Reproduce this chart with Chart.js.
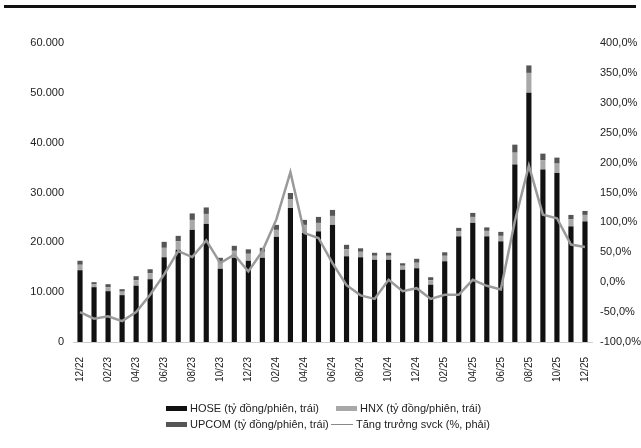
<!DOCTYPE html>
<html>
<head>
<meta charset="utf-8">
<script src="https://cdn.jsdelivr.net/npm/chart.js@4.4.1/dist/chart.umd.min.js"></script>
<style>
    body { margin: 0; background: #fff; }
    #wrap { position: relative; width: 641px; height: 448px; }
    #topRule { position: absolute; left: 4px; top: 5px; width: 632px; height: 3px; background: #111; }
    .legend { position: absolute; left: 0; top: 0; font-family: "Liberation Sans", Arial, sans-serif; font-size: 11px; color: #222; }
    .item { position: absolute; white-space: nowrap; line-height: 12px; }
    .box { display: inline-block; width: 21px; height: 5px; vertical-align: middle; margin-right: 3px; margin-top: -2px; }
    .ln { display: inline-block; width: 22px; height: 1px; vertical-align: middle; margin-right: 3px; background: #888; margin-top: -1px; }
</style>
</head>
<body>
<div id="wrap">
    <canvas id="chart" width="641" height="448"></canvas>
    <div id="topRule"></div>
    <div class="legend">
        <div class="item" style="left:166px; top:402px;"><span class="box" style="background:#111"></span>HOSE (tỷ đồng/phiên, trái)</div>
        <div class="item" style="left:336px; top:402px;"><span class="box" style="background:#a8a8a8"></span>HNX (tỷ đồng/phiên, trái)</div>
        <div class="item" style="left:166px; top:418px;"><span class="box" style="background:#555"></span>UPCOM (tỷ đồng/phiên, trái)</div>
        <div class="item" style="left:331px; top:418px;"><span class="ln"></span>Tăng trưởng svck (%, phải)</div>
    </div>
</div>
<script>
const months = ['12/22', '01/23', '02/23', '03/23', '04/23', '05/23', '06/23', '07/23', '08/23', '09/23', '10/23', '11/23',
    '12/23', '01/24', '02/24', '03/24', '04/24', '05/24', '06/24', '07/24', '08/24', '09/24', '10/24', '11/24',
    '12/24', '01/25', '02/25', '03/25', '04/25', '05/25', '06/25', '07/25', '08/25', '09/25', '10/25', '11/25', '12/25'];

// ty dong / phien
const hose = [14400, 11000, 10200, 9400, 11300, 12600, 17000, 18500, 22500, 23700, 14700, 16900,
    16300, 16900, 21100, 26900, 21900, 22200, 23500, 17200, 17000, 16500, 16500, 14500,
    14800, 11500, 16200, 21200, 23900, 21200, 20200, 35600, 50000, 34600, 33900, 23200, 24200];
const hnx = [1100, 600, 800, 700, 1100, 1200, 1900, 1700, 2000, 2000, 1300, 1400,
    1400, 1200, 1400, 1800, 1600, 1700, 1800, 1400, 1100, 800, 800, 800,
    1100, 900, 1100, 1000, 1200, 1100, 1100, 2400, 4000, 1900, 1900, 1400, 1300];
const upcom = [800, 400, 600, 500, 800, 800, 1200, 1100, 1300, 1300, 900, 1000,
    900, 800, 1000, 1200, 1000, 1200, 1200, 900, 700, 600, 600, 500,
    800, 600, 700, 700, 800, 700, 800, 1600, 1500, 1300, 1200, 900, 800];
// % yoy
const growth = [-50, -61, -57, -65, -50, -21, 13, 52, 42, 70, 32, 46,
    18, 52, 105, 184, 82, 74, 32, -5, -22, -28, 4, -15,
    -10, -28, -21, -21, 4, -6, -12, 102, 195, 113, 107, 63, 59];

const leftTicks = [0, 10000, 20000, 30000, 40000, 50000, 60000];

const font = { family: '"Liberation Sans", Arial, sans-serif', size: 11 };

const ctx = document.getElementById('chart').getContext('2d');
new Chart(ctx, {
    data: {
        labels: months,
        datasets: [
            { type: 'line', label: 'Tăng trưởng svck (%, phải)', data: growth, yAxisID: 'y2',
              borderColor: '#9a9a9a', borderWidth: 2.5, pointRadius: 0, tension: 0, order: 0 },
            { type: 'bar', label: 'HOSE', data: hose, backgroundColor: '#111', stack: 's', order: 1,
              categoryPercentage: 0.8, barPercentage: 0.46 },
            { type: 'bar', label: 'HNX', data: hnx, backgroundColor: '#a8a8a8', stack: 's', order: 1,
              categoryPercentage: 0.8, barPercentage: 0.46 },
            { type: 'bar', label: 'UPCOM', data: upcom, backgroundColor: '#555', stack: 's', order: 1,
              categoryPercentage: 0.8, barPercentage: 0.46 }
        ]
    },
    options: {
        responsive: false,
        animation: false,
        layout: { padding: { top: 43, bottom: 58, left: 0, right: 0 } },
        plugins: { legend: { display: false }, tooltip: { enabled: false } },
        scales: {
            x: {
                stacked: true,
                grid: { display: false },
                border: { display: true, color: '#cfcfcf' },
                afterFit: function (scale) { scale.height = 48; },
                ticks: {
                    autoSkip: false, maxRotation: 90, minRotation: 90, padding: 7,
                    color: '#222', font: { family: font.family, size: 10 },
                    callback: function (value, index) {
                        return index % 2 === 0 ? months[index] : '';
                    }
                }
            },
            y: {
                stacked: true, position: 'left', min: 0, max: 60000,
                grid: { display: false, drawTicks: false },
                border: { display: false },
                afterFit: function (scale) { scale.width = 73; },
                afterBuildTicks: function (scale) { scale.ticks = leftTicks.map(v => ({ value: v })); },
                ticks: {
                    padding: 9, color: '#222', font: font,
                    callback: function (value) { return value.toLocaleString('de-DE'); }
                }
            },
            y2: {
                position: 'right', min: -100, max: 400,
                grid: { display: false, drawTicks: false },
                border: { display: false },
                afterFit: function (scale) { scale.width = 49; },
                ticks: {
                    stepSize: 50, padding: 8, color: '#222', font: font,
                    callback: function (value) { return value.toFixed(1).replace('.', ',') + '%'; }
                }
            }
        }
    }
});
</script>
</body>
</html>
